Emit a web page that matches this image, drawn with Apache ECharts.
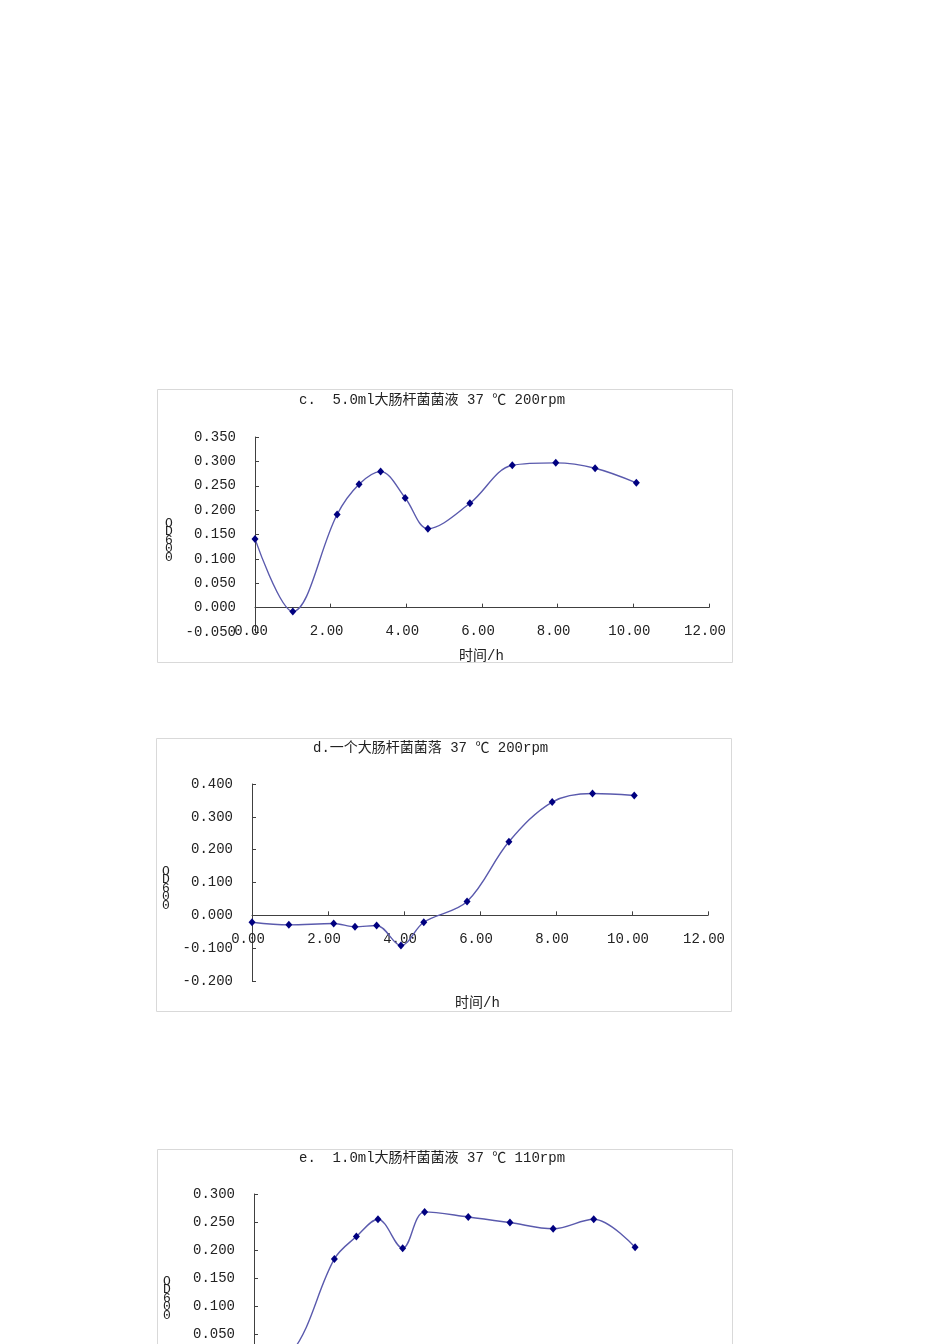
<!DOCTYPE html>
<html>
<head>
<meta charset="utf-8">
<script src="https://cdn.jsdelivr.net/npm/echarts@6/dist/echarts.min.js"></script>
<style>
    html, body { margin: 0; padding: 0; background: #fff; overflow: hidden; }
    body { width: 950px; height: 1344px; position: relative; }
    .box { position: absolute; width: 577px; height: 275px; }
</style>
</head>
<body>
<div id="chartC" class="box" style="left:157px; top:389px;"></div>
<div id="chartD" class="box" style="left:156px; top:738px;"></div>
<div id="chartE" class="box" style="left:157px; top:1149px;"></div>
<script>
// time in hours, OD600 readings
const timeC = [0, 1.0, 2.17, 2.75, 3.32, 3.97, 4.57, 5.68, 6.80, 7.95, 8.99, 10.08];
const odC = [0.141, -0.008, 0.191, 0.253, 0.279, 0.225, 0.162, 0.214, 0.292, 0.297, 0.286, 0.256];

const timeD = [0, 0.97, 2.15, 2.71, 3.28, 3.92, 4.52, 5.66, 6.76, 7.90, 8.96, 10.06];
const odD = [-0.021, -0.029, -0.025, -0.035, -0.031, -0.092, -0.021, 0.042, 0.224, 0.345, 0.371, 0.365];

const timeE = [0, 1.0, 2.12, 2.70, 3.27, 3.92, 4.50, 5.65, 6.75, 7.89, 8.96, 10.05];
const odE = [0.0, 0.018, 0.184, 0.224, 0.255, 0.203, 0.268, 0.259, 0.249, 0.238, 0.255, 0.205];

const titleC = 'c.  5.0ml大肠杆菌菌液 37 ℃ 200rpm';
const titleD = 'd.一个大肠杆菌菌落 37 ℃ 200rpm';
const titleE = 'e.  1.0ml大肠杆菌菌液 37 ℃ 110rpm';
const xName = '时间/h';
const yName = 'O\nD\n6\n0\n0';

const fontMain = '"Liberation Mono", "Noto Sans CJK SC", monospace';
const axisColor = '#404040';

const makeChart = (el, cfg) => {
    const myChart = echarts.init(document.getElementById(el));
    const pts = cfg.time.map((t, i) => [t, cfg.od[i]]);
    // labels sit under the zero line, not under the grid bottom
    const zeroOffset = cfg.grid.height * (0 - cfg.yMin) / (cfg.yMax - cfg.yMin);
    let option = {
        animation: false,
        grid: cfg.grid,
        xAxis: {
            type: 'value',
            min: 0,
            max: 12,
            interval: 2,
            axisLine: { onZero: true, lineStyle: { color: axisColor, width: 1 } },
            axisTick: { inside: true, length: 4, lineStyle: { color: axisColor } },
            splitLine: { show: false },
            axisLabel: {
                margin: 17 - zeroOffset,
                padding: [0, 8, 0, 0],
                color: '#222',
                fontSize: 14,
                fontFamily: fontMain,
                formatter: v => v.toFixed(2)
            }
        },
        yAxis: {
            type: 'value',
            min: cfg.yMin,
            max: cfg.yMax,
            interval: cfg.yStep,
            axisLine: { show: true, onZero: false, lineStyle: { color: axisColor, width: 1 } },
            axisTick: { show: true, inside: true, length: 4, lineStyle: { color: axisColor } },
            splitLine: { show: false },
            axisLabel: {
                margin: 19,
                color: '#222',
                fontSize: 14,
                fontFamily: fontMain,
                formatter: v => v.toFixed(3)
            }
        },
        series: [
            {
                type: 'line',
                data: pts,
                smooth: 0.35,
                symbol: 'diamond',
                symbolSize: [7, 8],
                itemStyle: { color: '#000080' },
                lineStyle: { color: '#5a5aad', width: 1.4 },
                z: 3
            }
        ],
        graphic: [
            {
                type: 'rect',
                shape: { x: 0.5, y: 0.5, width: 575, height: 273 },
                style: { fill: 'none', stroke: '#d9d9d9', lineWidth: 1 },
                silent: true
            },
            {
                type: 'text',
                left: cfg.titleX,
                top: cfg.titleY,
                style: { text: cfg.title, font: '14px ' + fontMain, fill: '#222' }
            },
            {
                type: 'text',
                left: cfg.xNameX,
                top: cfg.xNameY,
                style: { text: xName, font: '14px ' + fontMain, fill: '#222' }
            },
            {
                type: 'text',
                left: cfg.yNameX,
                top: cfg.yNameY,
                style: { text: yName, font: '13px ' + fontMain, fill: '#222', lineHeight: 8.5, align: 'center' }
            }
        ]
    };
    myChart.setOption(option);
    window.addEventListener('resize', () => {
        myChart.resize();
    });
};

makeChart('chartC', {
    time: timeC, od: odC, title: titleC,
    yMin: -0.05, yMax: 0.35, yStep: 0.05,
    grid: { left: 98, top: 48, width: 454, height: 195 },
    titleX: 142, titleY: 4, xNameX: 302, xNameY: 260, yNameX: 8, yNameY: 128
});
makeChart('chartD', {
    time: timeD, od: odD, title: titleD,
    yMin: -0.2, yMax: 0.4, yStep: 0.1,
    grid: { left: 96, top: 46, width: 456, height: 197 },
    titleX: 157, titleY: 3, xNameX: 299, xNameY: 258, yNameX: 6, yNameY: 127
});
makeChart('chartE', {
    time: timeE, od: odE, title: titleE,
    yMin: -0.05, yMax: 0.3, yStep: 0.05,
    grid: { left: 97, top: 45, width: 455, height: 196 },
    titleX: 142, titleY: 2, xNameX: 302, xNameY: 258, yNameX: 6, yNameY: 126
});
</script>
</body>
</html>
